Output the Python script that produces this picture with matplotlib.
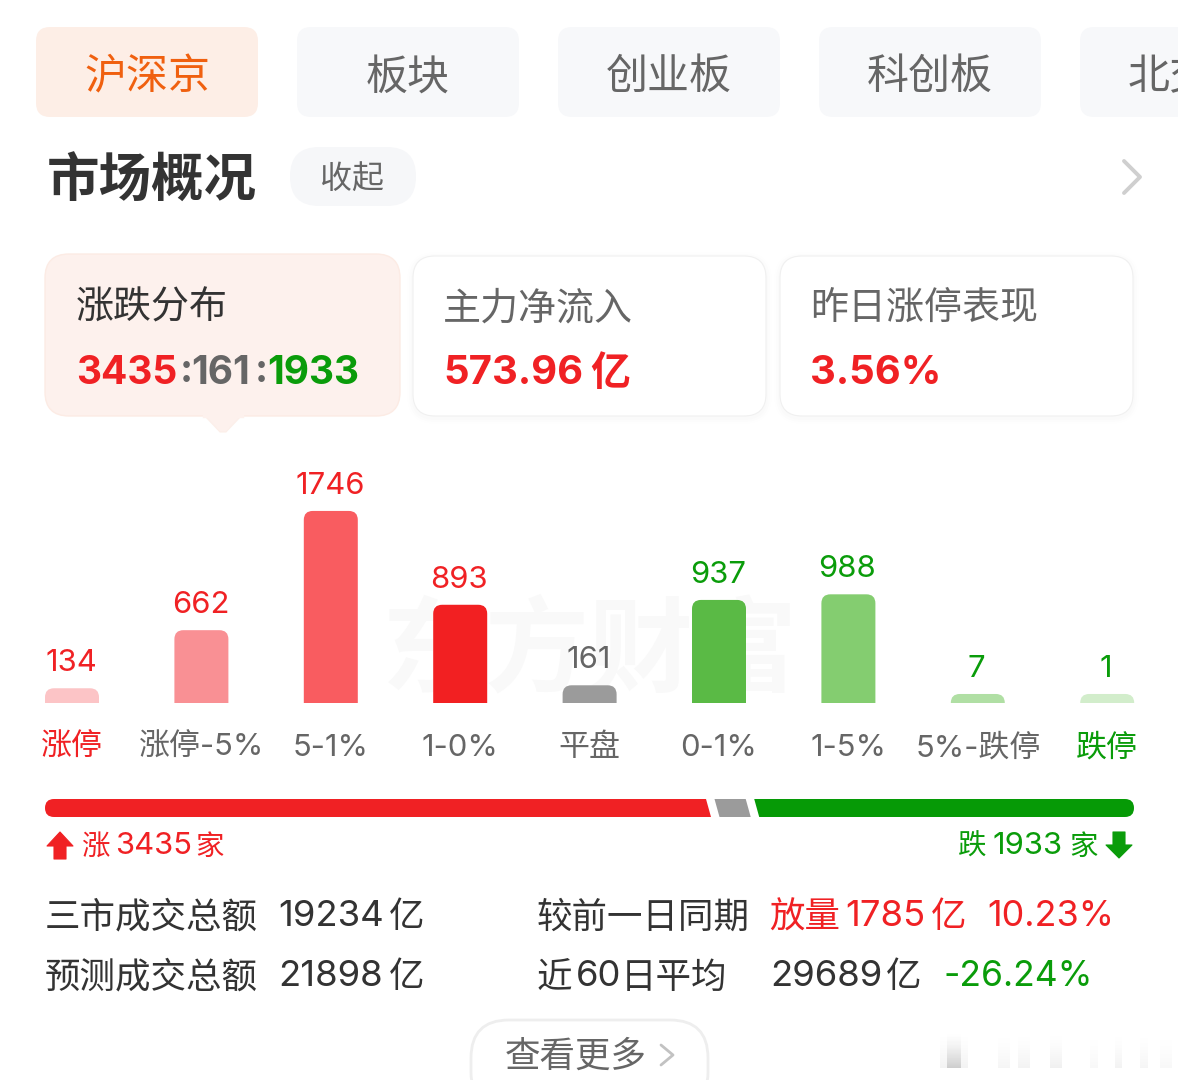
#!/usr/bin/env python3
"""Market overview screen: up/down distribution bars with summary cards."""

import matplotlib
matplotlib.use("Agg")
import numpy as np
import matplotlib.pyplot as plt
from matplotlib.patches import FancyBboxPatch, PathPatch, Polygon
from matplotlib.path import Path

plt.rcParams["font.family"] = ["Inter", "Noto Sans CJK SC"]

# ── Data ───────────────────────────────────────────────────────────────────────
categories = ["涨停", "涨停-5%", "5-1%", "1-0%", "平盘", "0-1%", "1-5%", "5%-跌停", "跌停"]
values = [134, 662, 1746, 893, 161, 937, 988, 7, 1]
tabs = ["沪深京", "板块", "创业板", "科创板", "北交所"]
ratio_up, ratio_flat, ratio_down = 3435, 161, 1933
net_inflow = "573.96"
limit_up_perf = "3.56%"

RED = "#f02124"
GREEN = "#0a9c0a"
GRAY = "#666666"
DARK = "#333333"
bar_colors = ["#fcc4c6", "#f99094", "#f95c60", "#f22022", "#9b9b9b",
              "#5aba45", "#84cd70", "#b0dfa4", "#d2edcb"]
value_colors = [RED, RED, RED, RED, GRAY, GREEN, GREEN, GREEN, GREEN]
label_colors = [RED, GRAY, GRAY, GRAY, GRAY, GRAY, GRAY, GRAY, GREEN]

W, H = 1178, 1080
fig = plt.figure(figsize=(W / 100, H / 100), dpi=100, facecolor="white")
ui = fig.add_axes([0, 0, 1, 1])
ui.set_xlim(0, W)
ui.set_ylim(H, 0)
ui.axis("off")


def has_cjk(s):
    return any(ord(c) > 0x2e80 for c in s)


def px(size):
    # font size in points for an em of `size` pixels
    return size * 0.72


def label(x, y, s, size, color=DARK, ha="left", weight="normal", ax=ui, **kw):
    # CJK glyph boxes sit higher than latin ones with va=center
    dy = 8 if has_cjk(s) else 3
    return ax.text(x, y + dy, s, fontsize=px(size), color=color, ha=ha, va="center",
                   fontweight=weight, **kw)


def box(x0, y0, x1, y1, r, fc, ec="none", lw=0, **kw):
    p = FancyBboxPatch((x0 + r, y0 + r), x1 - x0 - 2 * r, y1 - y0 - 2 * r,
                       boxstyle=f"round,pad={r},rounding_size={r}",
                       fc=fc, ec=ec, lw=lw, **kw)
    ui.add_patch(p)
    return p


# ── Tabs ───────────────────────────────────────────────────────────────────────
for i, name in enumerate(tabs):
    x0 = 36 + 261 * i
    active = i == 0
    box(x0, 27, x0 + 222, 117, 14, "#fdeee6" if active else "#f7f8fa")
    label(x0 + 111, 70, name, 42, "#f0600f" if active else GRAY, ha="center")

# ── Heading ────────────────────────────────────────────────────────────────────
label(47, 175, "市场概况", 52.5, DARK, weight="bold")
box(290, 147, 416, 206, 29, "#f6f7f9")
label(352, 171, "收起", 32, GRAY, ha="center")
ui.plot([1124, 1140, 1124], [161, 177, 193], color="#cfcfcf", lw=2.8,
        solid_capstyle="round", solid_joinstyle="round")

# ── Summary cards ──────────────────────────────────────────────────────────────
for x0, x1 in [(413, 766), (780, 1133)]:
    for grow, alpha in [(6, 0.005), (4, 0.006), (2, 0.008)]:
        box(x0 - grow, 256 - grow + 2, x1 + grow, 416 + grow + 2, 22 + grow, "black",
            alpha=alpha)
    box(x0, 256, x1, 416, 22, "white", "#f0f0f0", 0.8)

ui.add_patch(Polygon([[203, 414], [243, 414], [226, 432], [220, 432]], fc="#fdf1ed",
                     ec="#fcefe9", lw=0.8))
box(45, 254, 400, 416, 24, "#fdf1ed", "#fcebe4", 1)
ui.plot([204, 242], [415.5, 415.5], color="#fdf1ed", lw=2.4)

label(76, 301, "涨跌分布", 38, DARK)
label(76, 370, str(ratio_up), 39, RED, weight="bold")
label(179.5, 369, ":", 39, GRAY, weight="bold")
label(191, 370, str(ratio_flat), 39, GRAY, weight="bold")
label(255, 369, ":", 39, GRAY, weight="bold")
label(267, 370, str(ratio_down), 39, GREEN, weight="bold")

label(443, 301, "主力净流入", 38, GRAY)
label(443, 370, net_inflow, 40, RED, weight="bold")
label(590, 366, "亿", 40, RED, weight="bold")
label(810, 301, "昨日涨停表现", 38, GRAY)
label(810, 370, limit_up_perf, 40, RED, weight="bold")

# ── Watermark ──────────────────────────────────────────────────────────────────
label(590, 647, "东方财富", 104, "#f9f9f9", ha="center", weight="bold", style="italic")

# ── Bars ───────────────────────────────────────────────────────────────────────
PX_PER_UNIT = 0.11
SLOT = 129.4
MIN_HEIGHT = 82  # tiny counts still get a visible stub
TOP, BASE = 450, 703
chart = fig.add_axes([(72 - SLOT / 2) / W, 1 - BASE / H, 9 * SLOT / W, (BASE - TOP) / H])
chart.set_xlim(-0.5, 8.5)
chart.set_ylim(0, (BASE - TOP) / PX_PER_UNIT)
chart.axis("off")

heights = [max(v, MIN_HEIGHT) for v in values]
bars = chart.bar(range(len(values)), heights, width=54 / SLOT, color=bar_colors)
rx, ry = 9 / SLOT, 9 / PX_PER_UNIT
for rect, color in zip(bars, bar_colors):
    x, w, h = rect.get_x(), rect.get_width(), rect.get_height()
    r_y = min(ry, h)
    verts = [(x, 0), (x, h - r_y), (x, h), (x + rx, h), (x + w - rx, h), (x + w, h),
             (x + w, h - r_y), (x + w, 0), (x, 0)]
    codes = [Path.MOVETO, Path.LINETO, Path.CURVE3, Path.CURVE3, Path.LINETO,
             Path.CURVE3, Path.CURVE3, Path.LINETO, Path.CLOSEPOLY]
    chart.add_patch(PathPatch(Path(verts, codes), fc=color, ec="none"))
    rect.set_visible(False)

for i, (v, h) in enumerate(zip(values, heights)):
    chart.annotate(str(v), (i, h), xytext=(-1, 25), textcoords="offset pixels",
                   ha="center", va="center", fontsize=px(31), color=value_colors[i])
    label(72 + SLOT * i, 740 if has_cjk(categories[i]) else 745,
          categories[i], 31, label_colors[i], ha="center")

# ── Ratio strip ────────────────────────────────────────────────────────────────
X0, X1, Y0, Y1 = 45, 1134, 799, 817
SKEW = 5
GAP = 8.5
scale = (X1 - X0 - 2 * GAP) / (ratio_up + ratio_flat + ratio_down)
strip = box(X0, Y0, X1, Y1, 9, "none")
left = X0
for count, color in [(ratio_up, "#f02124"), (ratio_flat, "#9b9b9b"), (ratio_down, "#069a06")]:
    right = left + count * scale
    # the green end runs past the strip so only the rounded clip shapes it
    pad = 12 if color == "#069a06" else 0
    seg = Polygon([[left - SKEW, Y0], [right - SKEW + pad, Y0], [right + pad, Y1], [left, Y1]],
                  fc=color, ec="none")
    ui.add_patch(seg)
    seg.set_clip_path(strip)
    left = right + GAP

ui.add_patch(Polygon([[60, 832], [73, 846], [66, 846], [66, 859], [54, 859], [54, 846], [47, 846]],
                     fc=RED, ec=RED, lw=0.8, joinstyle="round"))
ui.add_patch(Polygon([[1119, 858], [1106, 845], [1113, 845], [1113, 832], [1125, 832], [1125, 845],
                      [1132, 845]], fc=GREEN, ec=GREEN, lw=0.8, joinstyle="round"))
label(81, 839, "涨", 28.5, RED)
label(115, 843, str(ratio_up), 31, RED)
label(195, 839, "家", 28.5, RED)
label(958, 839, "跌", 28.5, GREEN)
label(992, 843, str(ratio_down), 31, GREEN)
label(1069, 839, "家", 28.5, GREEN)

# ── Turnover rows ──────────────────────────────────────────────────────────────
label(45, 910, "三市成交总额", 35.5)
label(278, 914, "19234", 36.5)
label(389, 910, "亿", 35.5)
label(537, 910, "较前一日同期", 35.5)
label(769, 910, "放量", 35.5, RED)
label(845, 914, "1785", 36.5, RED)
label(931, 910, "亿", 35.5, RED)
label(987, 914, "10.23%", 36, RED)

label(45, 970, "预测成交总额", 35.5)
label(278, 974, "21898", 36.5)
label(389, 970, "亿", 35.5)
label(537, 970, "近", 35.5)
label(576, 974, "60", 36.5)
label(621, 970, "日平均", 35.5)
label(770, 974, "29689", 36.5)
label(886, 970, "亿", 35.5)
label(944, 974, "-26.24%", 35.5, GREEN)

# ── More button ────────────────────────────────────────────────────────────────
box(471, 1020, 708, 1110, 38, "white", "#eeeeee", 2)
label(505, 1049, "查看更多", 35.5, GRAY)
ui.plot([661, 673, 661], [1045, 1055, 1065], color="#c2c2c2", lw=2, solid_capstyle="round",
        solid_joinstyle="round")

# faint screenshot smudges in the bottom corner, fading out upward
fade = np.zeros((40, 1, 4))
fade[:, 0, 3] = np.linspace(0, 1, 40) ** 1.5
for x0, x1, a in [(947, 961, 0.15), (940, 968, 0.05), (998, 1010, 0.04), (1018, 1030, 0.05),
                  (1050, 1062, 0.06), (1090, 1098, 0.03), (1115, 1122, 0.05), (1140, 1148, 0.04),
                  (1160, 1172, 0.03)]:
    ui.imshow(fade, extent=(x0, x1, 1068, 1030), aspect="auto", alpha=fade[:, :, 3] * a,
              interpolation="bilinear", zorder=1)
ui.set_xlim(0, W)
ui.set_ylim(H, 0)

fig.savefig("out.png", dpi=100, facecolor="white")
